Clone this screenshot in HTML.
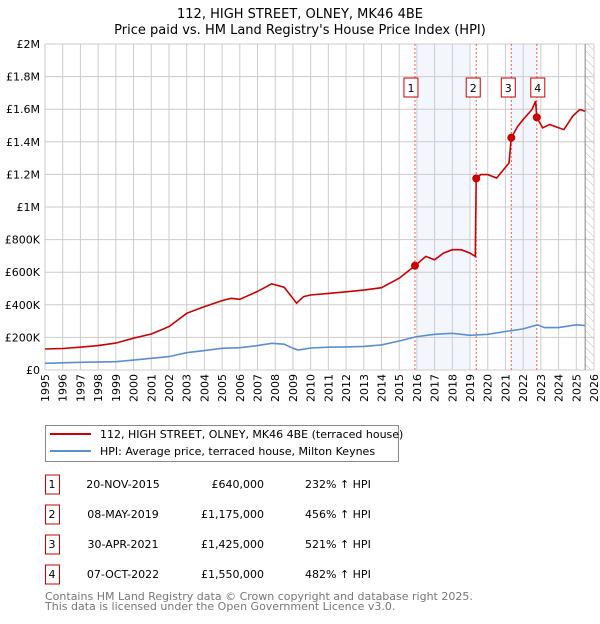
<!DOCTYPE html>
<html><head><meta charset="utf-8"><style>
body{margin:0;background:#fff;font-family:"DejaVu Sans","Liberation Sans",sans-serif;}
svg text{font-family:"DejaVu Sans","Liberation Sans",sans-serif;}
</style></head><body>
<svg id="c" width="600" height="620" xmlns="http://www.w3.org/2000/svg">
<text x="300" y="18" font-size="13" text-anchor="middle">112, HIGH STREET, OLNEY, MK46 4BE</text>
<text x="300" y="34" font-size="13" text-anchor="middle">Price paid vs. HM Land Registry's House Price Index (HPI)</text>
<g id="plot"></g>
<g>
<rect x="45.5" y="425.5" width="353" height="36" fill="#fff" stroke="#888"/>
<line x1="50" y1="434" x2="91" y2="434" stroke="#cc0000" stroke-width="2"/>
<text x="100" y="438" font-size="11">112, HIGH STREET, OLNEY, MK46 4BE (terraced house)</text>
<line x1="50" y1="451" x2="91" y2="451" stroke="#5b8fd4" stroke-width="2"/>
<text x="100" y="455" font-size="11">HPI: Average price, terraced house, Milton Keynes</text>
</g>
<g id="table" font-size="11"></g>
<text x="45" y="600" font-size="11" fill="#777">Contains HM Land Registry data © Crown copyright and database right 2025.</text>
<text x="45" y="610" font-size="11" fill="#777">This data is licensed under the Open Government Licence v3.0.</text>
</svg>
<script>
const redYears=[1995,1996,1997,1998,1999,2000,2001,2002,2003,2004,2005,2005.5,2006,2007,2007.8,2008.5,2009,2009.2,2009.6,2010,2011,2012,2013,2014,2015,2015.89,2016.5,2017,2017.5,2018,2018.5,2019,2019.3,2019.35,2019.6,2020,2020.5,2020.9,2021.2,2021.33,2021.7,2022,2022.5,2022.7,2022.77,2023.1,2023.5,2024,2024.3,2024.8,2025.2,2025.5];
const redVals=[129,132,140,150,165,195,221,266,348,389,426,440,434,482,529,508,440,410,450,460,470,480,490,505,563,640,697,676,717,738,738,717,697,1175,1199,1199,1178,1230,1270,1425,1496,1537,1598,1650,1550,1486,1506,1486,1475,1557,1598,1588];
const hpiYears=[1995,1997,1999,2000,2002,2003,2004,2005,2006,2007,2007.8,2008.5,2009,2009.3,2010,2011,2012,2013,2014,2015,2016,2017,2018,2019,2020,2021,2022,2022.8,2023.2,2024,2025,2025.5];
const hpiVals=[41,47,51,61,82,106,119,133,137,150,164,158,133,123,135,140,142,145,154,178,205,219,225,213,219,236,252,277,260,260,277,273];
const saleYears=[2015.89,2019.35,2021.33,2022.77];
const saleVals=[640,1175,1425,1550];
const saleLabels=["1","2","3","4"];
const saleDates=["20-NOV-2015","08-MAY-2019","30-APR-2021","07-OCT-2022"];
const salePrices=["£640,000","£1,175,000","£1,425,000","£1,550,000"];
const salePct=["232% ↑ HPI","456% ↑ HPI","521% ↑ HPI","482% ↑ HPI"];
const yTicks=[0,200,400,600,800,1000,1200,1400,1600,1800,2000];
const yTickLabels=["£0","£200K","£400K","£600K","£800K","£1M","£1.2M","£1.4M","£1.6M","£1.8M","£2M"];
const NS="http://www.w3.org/2000/svg";
const X0=45,X1=594,Y0=370,Y1=44;
const xs=y=>X0+(y-1995)/(2026-1995)*(X1-X0);
const ys=v=>Y0-v/2000*(Y0-Y1);
const g=document.getElementById('plot');
function mk(t,a,p){const e=document.createElementNS(NS,t);for(const k in a)e.setAttribute(k,a[k]);(p||g).appendChild(e);return e;}
// bands
let b1=mk('rect',{x:xs(2016),y:Y1,width:xs(2019)-xs(2016),height:Y0-Y1,fill:'#eef3fc',opacity:0.7});


let b2=mk('rect',{x:xs(saleYears[2]),y:Y1,width:xs(saleYears[3])-xs(saleYears[2]),height:Y0-Y1,fill:'#eef3fc',opacity:0.7});


// hatch
const defs=mk('defs',{});
const pat=mk('pattern',{id:'h',width:6,height:6,patternUnits:'userSpaceOnUse',patternTransform:'rotate(-45)'},defs);
mk('line',{x1:0,y1:0,x2:0,y2:6,stroke:'#bbb','stroke-width':1},pat);
let hr=mk('rect',{x:xs(2025.5),y:Y1,width:X1-xs(2025.5),height:Y0-Y1,fill:'url(#h)'});


// grid
for(let yr=1995;yr<=2026;yr++){
 const x=xs(yr);
 let l=mk('line',{x1:x,y1:Y1,x2:x,y2:Y0,stroke:'#ccc','stroke-width':1});
 
 
 let t=mk('text',{x:0,y:0,'font-size':11,'text-anchor':'end',transform:`translate(${x+4},${Y0+4}) rotate(-90)`});
 t.textContent=yr;
 
 
}
yTicks.forEach((v,i)=>{
 const y=ys(v);
 let l=mk('line',{x1:X0,y1:y,x2:X1,y2:y,stroke:'#ccc','stroke-width':1});
 
 
 let t=mk('text',{x:X0-5,y:y+4,'font-size':11,'text-anchor':'end'});
 t.textContent=yTickLabels[i];
 
 
});
let vl=mk('line',{x1:xs(2025.5),y1:Y1,x2:xs(2025.5),y2:Y0,stroke:'#888','stroke-width':1});


// sale lines
saleYears.forEach((yr,i)=>{
 let l=mk('line',{x1:xs(yr),y1:Y1,x2:xs(yr),y2:Y0,stroke:'#f55','stroke-width':1,'stroke-dasharray':'2,2'});
 
 
});
function path(xa,va,col,name){
 const d=xa.map((x,i)=>(i?'L':'M')+xs(x).toFixed(1)+','+ys(va[i]).toFixed(1)).join('');
 let p=mk('path',{d:d,fill:'none',stroke:col,'stroke-width':1.6});
 
 
}
path(hpiYears,hpiVals,'#5b8fd4','hpi-line');
path(redYears,redVals,'#cc0000','property-price-line');
saleYears.forEach((yr,i)=>{
 let c=mk('circle',{cx:xs(yr),cy:ys(saleVals[i]),r:4,fill:'#cc0000'});
 
 
 const bx=xs(yr)-7-(i==0?4:i==1?3:i==2?3:-1);
 let r=mk('rect',{x:bx,y:78,width:14,height:19,fill:'#fff',stroke:'#cc0000'});
 
 
 let t=mk('text',{x:bx+7,y:92,'font-size':11,'text-anchor':'middle'});
 t.textContent=saleLabels[i];
 
 
});
// table
const tb=document.getElementById('table');
saleLabels.forEach((s,i)=>{
 const y=488+i*30;
 let r=mk('rect',{x:45.5,y:y-13,width:14,height:19,fill:'#fff',stroke:'#cc0000'},tb);
 
 
 let t=mk('text',{x:52,y:y,'text-anchor':'middle'},tb);t.textContent=s;
 
 
 t=mk('text',{x:123,y:y,'text-anchor':'middle'},tb);t.textContent=saleDates[i];
 
 
 t=mk('text',{x:264,y:y,'text-anchor':'end'},tb);t.textContent=salePrices[i];
 
 
 t=mk('text',{x:305,y:y},tb);t.textContent=salePct[i];
 
 
});
</script>
</body></html>
